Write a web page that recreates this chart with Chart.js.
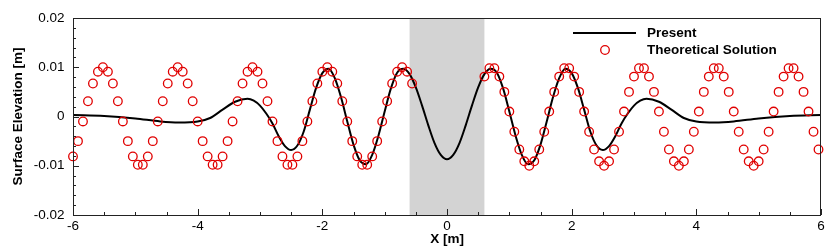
<!DOCTYPE html>
<html>
<head>
<meta charset="utf-8">
<script src="https://cdn.jsdelivr.net/npm/chart.js@4.4.0/dist/chart.umd.min.js"></script>
<style>
  html, body { margin: 0; padding: 0; background: #fff; }
</style>
</head>
<body>
<canvas id="chart" width="837" height="252"></canvas>
<script>
// axis ticks
const xTicks = [-6, -4, -2, 0, 2, 4, 6];
const xTickLabels = ['-6', '-4', '-2', '0', '2', '4', '6'];
const yTicks = [-0.02, -0.01, 0, 0.01, 0.02];
const yTickLabels = ['-0.02', '-0.01', '0', '0.01', '0.02'];

// shaded zone [m]
const grayBand = [-0.6, 0.6];

// "Present" curve
const presentX = [-6, -5.5, -5, -4.6, -4.3, -4, -3.8, -3.6, -3.4, -3.2,
  -3.1, -3, -2.9, -2.8, -2.7, -2.6, -2.5, -2.4, -2.3, -2.2,
  -2.1, -2, -1.9, -1.8, -1.7, -1.6, -1.5, -1.4, -1.3, -1.2,
  -1.1, -1, -0.9, -0.8, -0.7, -0.6, -0.5, -0.4, -0.3, -0.2,
  -0.1, 0,
  0.1, 0.2, 0.3, 0.4, 0.5, 0.6, 0.7, 0.8, 0.9, 1,
  1.1, 1.2, 1.3, 1.4, 1.5, 1.6, 1.7, 1.8, 1.9, 2,
  2.1, 2.2, 2.3, 2.4, 2.5, 2.6, 2.7, 2.8, 2.9, 3,
  3.1, 3.2, 3.4, 3.6, 3.8, 4, 4.3, 4.6, 5, 5.5, 6];
const presentY = [0.0003, 0.0001, -0.0004, -0.0010, -0.0012, -0.0010, -0.0003, 0.0014, 0.0030, 0.0036,
  0.0032, 0.0022, 0.0006, -0.0014, -0.0040, -0.0060, -0.0068, -0.0059, -0.0031, 0.0014,
  0.0058, 0.0088, 0.0097, 0.0078, 0.0039, -0.0010, -0.0057, -0.0089, -0.0097, -0.0078,
  -0.0039, 0.0010, 0.0057, 0.0089, 0.0097, 0.0086, 0.0059, 0.0022, -0.0018, -0.0054,
  -0.0078, -0.0087,
  -0.0078, -0.0054, -0.0018, 0.0022, 0.0059, 0.0086, 0.0097, 0.0089, 0.0057, 0.0010,
  -0.0039, -0.0078, -0.0097, -0.0089, -0.0057, -0.0010, 0.0039, 0.0078, 0.0097, 0.0088,
  0.0058, 0.0014, -0.0031, -0.0059, -0.0068, -0.0060, -0.0040, -0.0014, 0.0006, 0.0022,
  0.0032, 0.0036, 0.0030, 0.0014, -0.0003, -0.0010, -0.0012, -0.0010, -0.0004, 0.0001, 0.0003];

// "Theoretical Solution" markers
const theoryX = [-6.00, -5.92, -5.84, -5.76, -5.68, -5.60, -5.52, -5.44, -5.36, -5.28,
  -5.20, -5.12, -5.04, -4.96, -4.88, -4.80, -4.72, -4.64, -4.56, -4.48,
  -4.40, -4.32, -4.24, -4.16, -4.08, -4.00, -3.92, -3.84, -3.76, -3.68,
  -3.60, -3.52, -3.44, -3.36, -3.28, -3.20, -3.12, -3.04, -2.96, -2.88,
  -2.80, -2.72, -2.64, -2.56, -2.48, -2.40, -2.32, -2.24, -2.16, -2.08,
  -2.00, -1.92, -1.84, -1.76, -1.68, -1.60, -1.52, -1.44, -1.36, -1.28,
  -1.20, -1.12, -1.04, -0.96, -0.88, -0.80, -0.72, -0.64, -0.56,
  0.60, 0.68, 0.76, 0.84, 0.92, 1.00, 1.08, 1.16, 1.24, 1.32,
  1.40, 1.48, 1.56, 1.64, 1.72, 1.80, 1.88, 1.96, 2.04, 2.12,
  2.20, 2.28, 2.36, 2.44, 2.52, 2.60, 2.68, 2.76, 2.84, 2.92,
  3.00, 3.08, 3.16, 3.24, 3.32, 3.40, 3.48, 3.56, 3.64, 3.72,
  3.80, 3.88, 3.96, 4.04, 4.12, 4.20, 4.28, 4.36, 4.44, 4.52,
  4.60, 4.68, 4.76, 4.84, 4.92, 5.00, 5.08, 5.16, 5.24, 5.32,
  5.40, 5.48, 5.56, 5.64, 5.72, 5.80, 5.88, 5.96];
const theoryY = [-0.0081, -0.0050, -0.0010, 0.0031, 0.0067, 0.0091, 0.0100, 0.0091, 0.0067, 0.0031,
  -0.0010, -0.0050, -0.0081, -0.0098, -0.0098, -0.0081, -0.0050, -0.0010, 0.0031, 0.0067,
  0.0091, 0.0100, 0.0091, 0.0067, 0.0031, -0.0010, -0.0050, -0.0081, -0.0098, -0.0098,
  -0.0081, -0.0050, -0.0010, 0.0031, 0.0067, 0.0091, 0.0100, 0.0091, 0.0067, 0.0031,
  -0.0010, -0.0050, -0.0081, -0.0098, -0.0098, -0.0081, -0.0050, -0.0010, 0.0031, 0.0067,
  0.0091, 0.0100, 0.0091, 0.0067, 0.0031, -0.0010, -0.0050, -0.0081, -0.0098, -0.0098,
  -0.0081, -0.0050, -0.0010, 0.0031, 0.0067, 0.0091, 0.0100, 0.0091, 0.0067,
  0.0081, 0.0098, 0.0098, 0.0081, 0.0050, 0.0010, -0.0031, -0.0067, -0.0091, -0.0100,
  -0.0091, -0.0067, -0.0031, 0.0010, 0.0050, 0.0081, 0.0098, 0.0098, 0.0081, 0.0050,
  0.0010, -0.0031, -0.0067, -0.0091, -0.0100, -0.0091, -0.0067, -0.0031, 0.0010, 0.0050,
  0.0081, 0.0098, 0.0098, 0.0081, 0.0050, 0.0010, -0.0031, -0.0067, -0.0091, -0.0100,
  -0.0091, -0.0067, -0.0031, 0.0010, 0.0050, 0.0081, 0.0098, 0.0098, 0.0081, 0.0050,
  0.0010, -0.0031, -0.0067, -0.0091, -0.0100, -0.0091, -0.0067, -0.0031, 0.0010, 0.0050,
  0.0081, 0.0098, 0.0098, 0.0081, 0.0050, 0.0010, -0.0031, -0.0067];

const RED = '#e00000';
const FONT = '"Liberation Sans", Arial, sans-serif';

// gray band, frame, inward ticks and the legend box
const decor = {
  id: 'decor',
  beforeDatasetsDraw(chart) {
    const { ctx, chartArea: a, scales: { x } } = chart;
    const x0 = x.getPixelForValue(grayBand[0]);
    const x1 = x.getPixelForValue(grayBand[1]);
    ctx.save();
    ctx.fillStyle = '#d3d3d3';
    ctx.fillRect(x0, a.top, x1 - x0, a.bottom - a.top);
    ctx.restore();
  },
  afterDraw(chart) {
    const { ctx, chartArea: a, scales: { x, y } } = chart;
    ctx.save();
    ctx.strokeStyle = '#222';
    ctx.lineWidth = 1;
    ctx.strokeRect(a.left + 0.5, a.top + 0.5, a.right - a.left - 1, a.bottom - a.top);

    ctx.beginPath();
    // x ticks every 0.5, major every 2
    for (let i = 0; i <= 24; i++) {
      const v = -6 + i * 0.5;
      const px = Math.round(x.getPixelForValue(v)) + 0.5;
      const len = (i % 4 === 0) ? 6 : 3;
      ctx.moveTo(px, a.bottom);
      ctx.lineTo(px, a.bottom - len);
    }
    // y ticks every 0.002, major every 0.01
    for (let i = 0; i <= 20; i++) {
      const v = -0.02 + i * 0.002;
      const py = Math.round(y.getPixelForValue(v)) + 0.5;
      const len = (i % 5 === 0) ? 6 : 3;
      ctx.moveTo(a.left, py);
      ctx.lineTo(a.left + len, py);
    }
    ctx.stroke();

    // legend
    ctx.strokeStyle = '#000';
    ctx.lineWidth = 2;
    ctx.beginPath();
    ctx.moveTo(573, 33);
    ctx.lineTo(636, 33);
    ctx.stroke();
    ctx.strokeStyle = RED;
    ctx.lineWidth = 1.3;
    ctx.beginPath();
    ctx.arc(605, 50, 4.3, 0, Math.PI * 2);
    ctx.stroke();
    ctx.fillStyle = '#000';
    ctx.font = 'bold 13.5px ' + FONT;
    ctx.textBaseline = 'middle';
    ctx.textAlign = 'left';
    ctx.fillText('Present', 647, 33);
    ctx.fillText('Theoretical Solution', 647, 50);
    ctx.restore();
  }
};

new Chart(document.getElementById('chart'), {
  type: 'scatter',
  data: {
    datasets: [
      {
        label: 'Theoretical Solution',
        data: theoryX.map((v, i) => ({ x: v, y: theoryY[i] })),
        pointStyle: 'circle',
        pointRadius: 4.3,
        borderColor: RED,
        borderWidth: 1.3,
        backgroundColor: 'rgba(0,0,0,0)',
        clip: 10
      },
      {
        label: 'Present',
        type: 'line',
        data: presentX.map((v, i) => ({ x: v, y: presentY[i] })),
        borderColor: '#000',
        borderWidth: 2,
        pointRadius: 0,
        fill: false,
        cubicInterpolationMode: 'monotone'
      }
    ]
  },
  options: {
    responsive: false,
    animation: false,
    events: [],
    layout: { padding: { left: 0, top: 18, right: 16, bottom: 0 } },
    plugins: { legend: { display: false }, tooltip: { enabled: false } },
    scales: {
      x: {
        type: 'linear',
        min: -6,
        max: 6,
        afterBuildTicks: s => { s.ticks = xTicks.map(v => ({ value: v })); },
        afterFit: s => { s.height = 37; },
        grid: { display: false, drawTicks: false },
        border: { display: false },
        ticks: {
          padding: 3,
          color: '#000',
          font: { family: FONT, size: 13.5 },
          maxRotation: 0,
          callback: (v) => xTickLabels[xTicks.indexOf(v)]
        },
        title: {
          display: true,
          text: 'X [m]',
          color: '#000',
          font: { family: FONT, size: 13.5, weight: 'bold' },
          padding: { top: 0, bottom: 5 }
        }
      },
      y: {
        type: 'linear',
        min: -0.02,
        max: 0.02,
        afterBuildTicks: s => { s.ticks = yTicks.map(v => ({ value: v })); },
        afterFit: s => { s.width = 73; },
        grid: { display: false, drawTicks: false },
        border: { display: false },
        ticks: {
          padding: 8.5,
          color: '#000',
          font: { family: FONT, size: 13.5 },
          callback: (v) => yTickLabels[yTicks.indexOf(v)]
        },
        title: {
          display: true,
          text: 'Surface Elevation [m]',
          color: '#000',
          font: { family: FONT, size: 13.5, weight: 'bold' },
          padding: { top: 10, bottom: 0 }
        }
      }
    }
  },
  plugins: [decor]
});
</script>
</body>
</html>
